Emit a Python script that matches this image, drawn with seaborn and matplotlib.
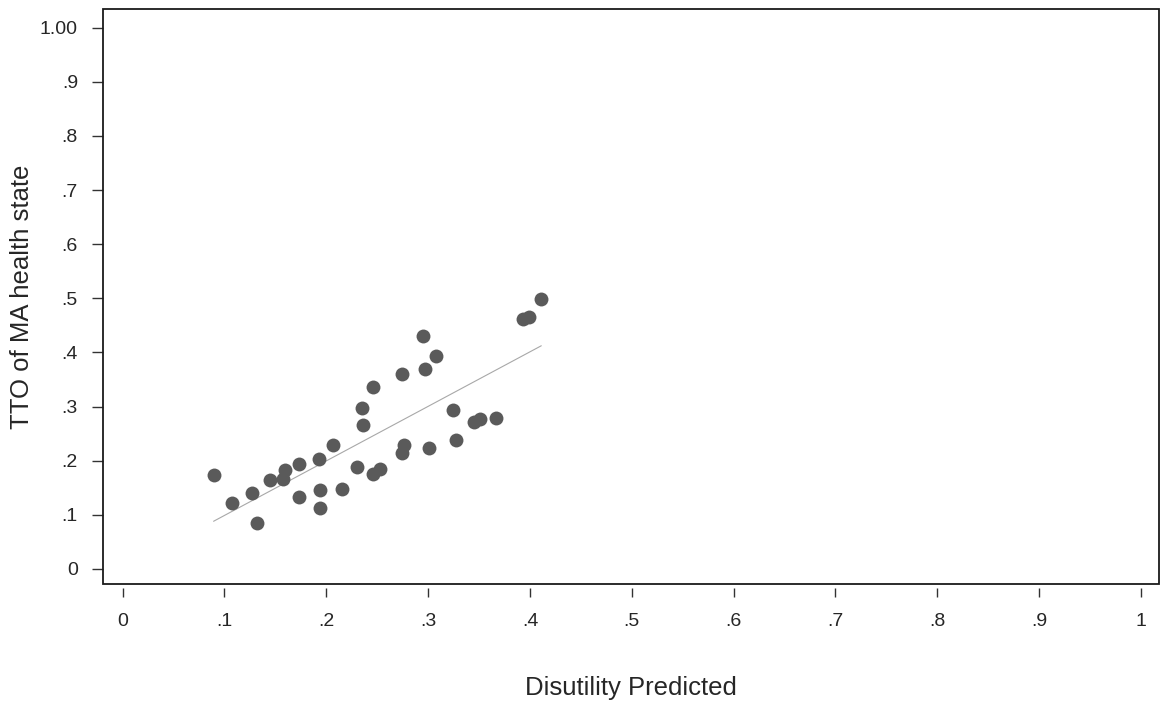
import seaborn as sns
import matplotlib.pyplot as plt
import matplotlib.patches as mpatches
import pandas as pd

# Data
disutility_pred = [0.0893, 0.1070, 0.1266, 0.1315, 0.1445, 0.1573, 0.1593, 0.1727, 0.1735,
                   0.1927, 0.1940, 0.1940, 0.2065, 0.2154, 0.2303, 0.2352, 0.2359, 0.2462,
                   0.2455, 0.2527, 0.2741, 0.2758, 0.2748, 0.2946, 0.2973, 0.3012, 0.3078,
                   0.3246, 0.3272, 0.3450, 0.3506, 0.3665, 0.3929, 0.3988, 0.4111]
tto_value = [0.1737, 0.1225, 0.1395, 0.0852, 0.1635, 0.1659, 0.1820, 0.1945, 0.1330,
             0.2032, 0.1465, 0.1123, 0.2293, 0.1478, 0.1888, 0.2976, 0.2653, 0.3362,
             0.1751, 0.1846, 0.2150, 0.2282, 0.3597, 0.4310, 0.3695, 0.2239, 0.3937,
             0.2934, 0.2381, 0.2710, 0.2771, 0.2795, 0.4619, 0.4650, 0.4986]

x_ticks = [0, 0.1, 0.2, 0.3, 0.4, 0.5, 0.6, 0.7, 0.8, 0.9, 1.0]
x_labels = ["0", ".1", ".2", ".3", ".4", ".5", ".6", ".7", ".8", ".9", "1"]
y_ticks = [0, 0.1, 0.2, 0.3, 0.4, 0.5, 0.6, 0.7, 0.8, 0.9, 1.0]
y_labels = ["0", ".1", ".2", ".3", ".4", ".5", ".6", ".7", ".8", ".9", "1.00"]

df = pd.DataFrame({"pred": disutility_pred, "tto": tto_value})

sns.set_style("white")
plt.rcParams["font.family"] = ["Liberation Sans", "DejaVu Sans"]

fig = plt.figure(figsize=(11.61, 7.02), dpi=100)
ax = fig.add_axes([0.0887, 0.1677, 0.9096, 0.8195])

sns.scatterplot(data=df, x="pred", y="tto", color="#5a5a5a", s=100,
                linewidth=0, ax=ax, zorder=3)
sns.regplot(data=df, x="pred", y="tto", scatter=False, ci=None, ax=ax,
            line_kws={"color": "#a8a8a8", "linewidth": 0.8, "zorder": 2})

ax.set_xlim(-0.0193, 1.0177)
ax.set_ylim(-0.0283, 1.0345)

ax.set_xticks(x_ticks)
ax.set_xticklabels(x_labels)
ax.set_yticks(y_ticks)
ax.set_yticklabels(y_labels)

# box around the plot region, ticks drawn separately
for side in ["top", "right", "left", "bottom"]:
    ax.spines[side].set_visible(False)
ax.spines["bottom"].set_position(("outward", 3))
ax.add_patch(mpatches.Rectangle((0, 0), 1, 1, transform=ax.transAxes, fill=False,
                                edgecolor="#1a1a1a", linewidth=1.3, clip_on=False, zorder=4))

ax.tick_params(axis="x", direction="out", length=6.5, width=1, color="#333333",
               labelsize=14, pad=11, bottom=True)
ax.tick_params(axis="y", direction="out", length=8, width=1, color="#333333",
               labelsize=14, pad=10, left=True)

ax.set_xlabel("Disutility Predicted", fontsize=18.5, labelpad=33)
ax.set_ylabel("TTO of MA health state", fontsize=18.5, labelpad=4)

plt.savefig("out.png", dpi=100)
